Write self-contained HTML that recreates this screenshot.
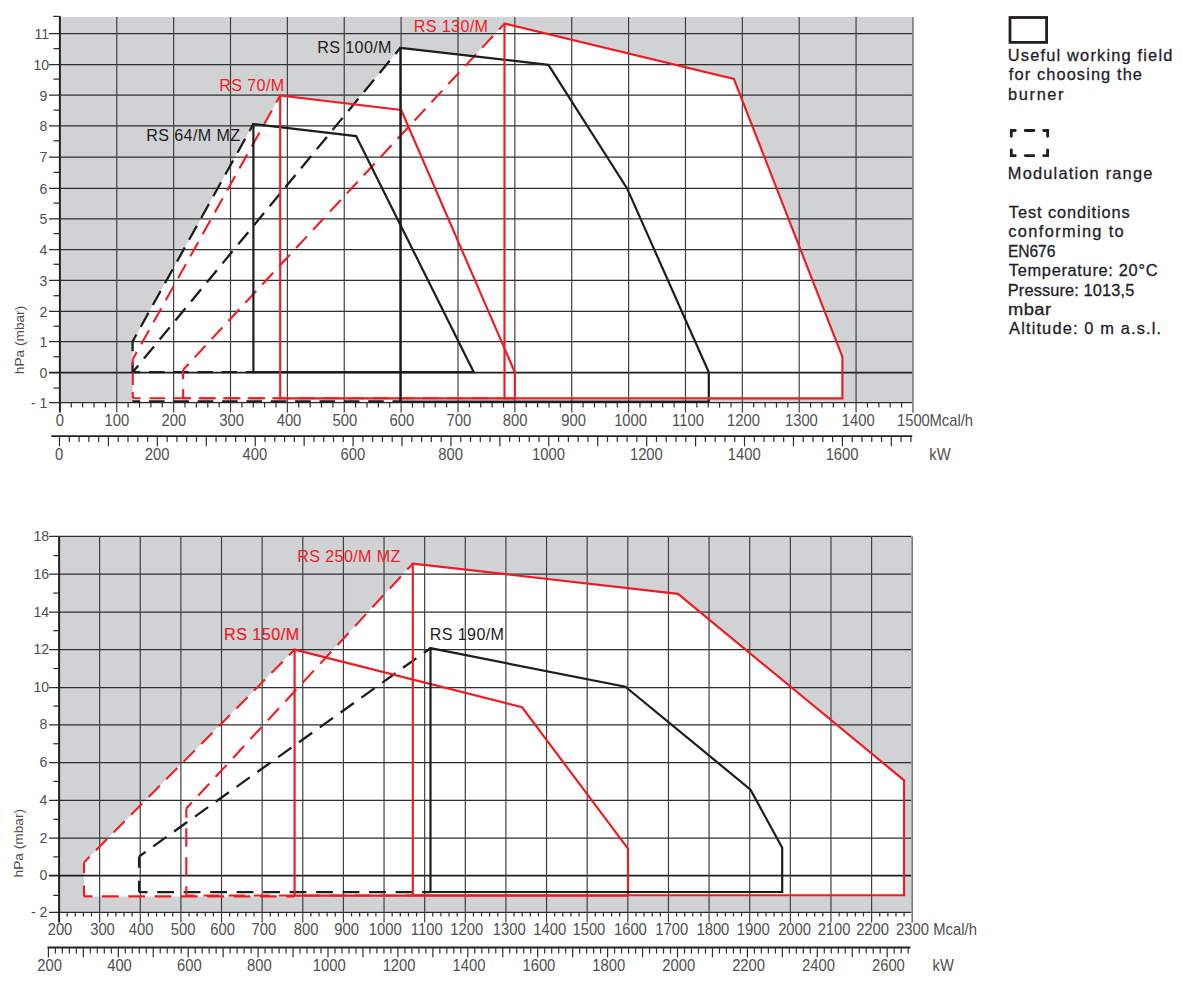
<!DOCTYPE html><html><head><meta charset="utf-8"><style>html,body{margin:0;padding:0;background:#fff;width:1182px;height:995px;overflow:hidden}svg{display:block}text{font-family:"Liberation Sans", sans-serif}</style></head><body>
<svg width="1182" height="995" viewBox="0 0 1182 995">
<rect x="59.9" y="17" width="853.05" height="385.7" fill="#d1d2d4"/>
<polygon points="253.4,124 356.1,136.1 473.8,372.2 253.4,372.2" fill="#fff"/>
<polygon points="280.2,95.5 401.2,110 514.8,372.2 514.8,398.3 280.2,398.3" fill="#fff"/>
<polygon points="400.4,47.8 548.4,64.9 627.1,188.4 708.8,372.3 708.8,401.6 400.4,401.6" fill="#fff"/>
<polygon points="504.5,23.6 733.9,78.9 842.4,356.9 842.4,398.3 504.5,398.3" fill="#fff"/>
<polygon points="253.4,124 132.6,341.5 132.6,372.2 253.4,372.2" fill="#fff"/>
<polygon points="280.2,95.5 132.8,359.2 132.8,398.3 280.2,398.3" fill="#fff"/>
<polygon points="504.5,23.6 183.1,369.8 183.1,398.3 504.5,398.3" fill="#fff"/>
<polygon points="400.4,47.8 133.3,371.5 133.3,401.4 400.4,401.4" fill="#fff"/>
<line x1="49" y1="402.7" x2="911.95" y2="402.7" stroke="#2e2e2e" stroke-width="1.25"/>
<line x1="49" y1="372.7" x2="911.95" y2="372.7" stroke="#1e1e1e" stroke-width="1.7"/>
<line x1="49" y1="341.7" x2="911.95" y2="341.7" stroke="#2e2e2e" stroke-width="1.25"/>
<line x1="49" y1="311.4" x2="911.95" y2="311.4" stroke="#2e2e2e" stroke-width="1.25"/>
<line x1="49" y1="280.4" x2="911.95" y2="280.4" stroke="#2e2e2e" stroke-width="1.25"/>
<line x1="49" y1="249.6" x2="911.95" y2="249.6" stroke="#2e2e2e" stroke-width="1.25"/>
<line x1="49" y1="218.8" x2="911.95" y2="218.8" stroke="#2e2e2e" stroke-width="1.25"/>
<line x1="49" y1="188.3" x2="911.95" y2="188.3" stroke="#2e2e2e" stroke-width="1.25"/>
<line x1="49" y1="157.1" x2="911.95" y2="157.1" stroke="#2e2e2e" stroke-width="1.25"/>
<line x1="49" y1="125.8" x2="911.95" y2="125.8" stroke="#2e2e2e" stroke-width="1.25"/>
<line x1="49" y1="95.2" x2="911.95" y2="95.2" stroke="#2e2e2e" stroke-width="1.25"/>
<line x1="49" y1="64.5" x2="911.95" y2="64.5" stroke="#2e2e2e" stroke-width="1.25"/>
<line x1="49" y1="33.5" x2="911.95" y2="33.5" stroke="#2e2e2e" stroke-width="1.25"/>
<line x1="53.5" y1="388.1" x2="59.9" y2="388.1" stroke="#2e2e2e" stroke-width="1.25"/>
<line x1="53.5" y1="356.7" x2="59.9" y2="356.7" stroke="#2e2e2e" stroke-width="1.25"/>
<line x1="53.5" y1="326.2" x2="59.9" y2="326.2" stroke="#2e2e2e" stroke-width="1.25"/>
<line x1="53.5" y1="295.7" x2="59.9" y2="295.7" stroke="#2e2e2e" stroke-width="1.25"/>
<line x1="53.5" y1="264.3" x2="59.9" y2="264.3" stroke="#2e2e2e" stroke-width="1.25"/>
<line x1="53.5" y1="233.6" x2="59.9" y2="233.6" stroke="#2e2e2e" stroke-width="1.25"/>
<line x1="53.5" y1="203.1" x2="59.9" y2="203.1" stroke="#2e2e2e" stroke-width="1.25"/>
<line x1="53.5" y1="172.4" x2="59.9" y2="172.4" stroke="#2e2e2e" stroke-width="1.25"/>
<line x1="53.5" y1="140.8" x2="59.9" y2="140.8" stroke="#2e2e2e" stroke-width="1.25"/>
<line x1="53.5" y1="110.1" x2="59.9" y2="110.1" stroke="#2e2e2e" stroke-width="1.25"/>
<line x1="53.5" y1="79.1" x2="59.9" y2="79.1" stroke="#2e2e2e" stroke-width="1.25"/>
<line x1="53.5" y1="48.6" x2="59.9" y2="48.6" stroke="#2e2e2e" stroke-width="1.25"/>
<line x1="116.77" y1="17" x2="116.77" y2="412.5" stroke="#404040" stroke-width="1.2"/>
<line x1="173.64" y1="17" x2="173.64" y2="412.5" stroke="#404040" stroke-width="1.2"/>
<line x1="230.51" y1="17" x2="230.51" y2="412.5" stroke="#404040" stroke-width="1.2"/>
<line x1="287.38" y1="17" x2="287.38" y2="412.5" stroke="#404040" stroke-width="1.2"/>
<line x1="344.25" y1="17" x2="344.25" y2="412.5" stroke="#404040" stroke-width="1.2"/>
<line x1="401.12" y1="17" x2="401.12" y2="412.5" stroke="#404040" stroke-width="1.2"/>
<line x1="457.99" y1="17" x2="457.99" y2="412.5" stroke="#404040" stroke-width="1.2"/>
<line x1="514.86" y1="17" x2="514.86" y2="412.5" stroke="#404040" stroke-width="1.2"/>
<line x1="571.73" y1="17" x2="571.73" y2="412.5" stroke="#404040" stroke-width="1.2"/>
<line x1="628.6" y1="17" x2="628.6" y2="412.5" stroke="#404040" stroke-width="1.2"/>
<line x1="685.47" y1="17" x2="685.47" y2="412.5" stroke="#404040" stroke-width="1.2"/>
<line x1="742.34" y1="17" x2="742.34" y2="412.5" stroke="#404040" stroke-width="1.2"/>
<line x1="799.21" y1="17" x2="799.21" y2="412.5" stroke="#404040" stroke-width="1.2"/>
<line x1="856.08" y1="17" x2="856.08" y2="412.5" stroke="#404040" stroke-width="1.2"/>
<line x1="912.95" y1="17" x2="912.95" y2="412.5" stroke="#7a7a7a" stroke-width="1.6"/>
<line x1="71.27" y1="402.7" x2="71.27" y2="407.6" stroke="#2e2e2e" stroke-width="1.2"/>
<line x1="82.65" y1="402.7" x2="82.65" y2="407.6" stroke="#2e2e2e" stroke-width="1.2"/>
<line x1="94.02" y1="402.7" x2="94.02" y2="407.6" stroke="#2e2e2e" stroke-width="1.2"/>
<line x1="105.4" y1="402.7" x2="105.4" y2="407.6" stroke="#2e2e2e" stroke-width="1.2"/>
<line x1="128.14" y1="402.7" x2="128.14" y2="407.6" stroke="#2e2e2e" stroke-width="1.2"/>
<line x1="139.52" y1="402.7" x2="139.52" y2="407.6" stroke="#2e2e2e" stroke-width="1.2"/>
<line x1="150.89" y1="402.7" x2="150.89" y2="407.6" stroke="#2e2e2e" stroke-width="1.2"/>
<line x1="162.27" y1="402.7" x2="162.27" y2="407.6" stroke="#2e2e2e" stroke-width="1.2"/>
<line x1="185.01" y1="402.7" x2="185.01" y2="407.6" stroke="#2e2e2e" stroke-width="1.2"/>
<line x1="196.39" y1="402.7" x2="196.39" y2="407.6" stroke="#2e2e2e" stroke-width="1.2"/>
<line x1="207.76" y1="402.7" x2="207.76" y2="407.6" stroke="#2e2e2e" stroke-width="1.2"/>
<line x1="219.14" y1="402.7" x2="219.14" y2="407.6" stroke="#2e2e2e" stroke-width="1.2"/>
<line x1="241.88" y1="402.7" x2="241.88" y2="407.6" stroke="#2e2e2e" stroke-width="1.2"/>
<line x1="253.26" y1="402.7" x2="253.26" y2="407.6" stroke="#2e2e2e" stroke-width="1.2"/>
<line x1="264.63" y1="402.7" x2="264.63" y2="407.6" stroke="#2e2e2e" stroke-width="1.2"/>
<line x1="276.01" y1="402.7" x2="276.01" y2="407.6" stroke="#2e2e2e" stroke-width="1.2"/>
<line x1="298.75" y1="402.7" x2="298.75" y2="407.6" stroke="#2e2e2e" stroke-width="1.2"/>
<line x1="310.13" y1="402.7" x2="310.13" y2="407.6" stroke="#2e2e2e" stroke-width="1.2"/>
<line x1="321.5" y1="402.7" x2="321.5" y2="407.6" stroke="#2e2e2e" stroke-width="1.2"/>
<line x1="332.88" y1="402.7" x2="332.88" y2="407.6" stroke="#2e2e2e" stroke-width="1.2"/>
<line x1="355.62" y1="402.7" x2="355.62" y2="407.6" stroke="#2e2e2e" stroke-width="1.2"/>
<line x1="367" y1="402.7" x2="367" y2="407.6" stroke="#2e2e2e" stroke-width="1.2"/>
<line x1="378.37" y1="402.7" x2="378.37" y2="407.6" stroke="#2e2e2e" stroke-width="1.2"/>
<line x1="389.75" y1="402.7" x2="389.75" y2="407.6" stroke="#2e2e2e" stroke-width="1.2"/>
<line x1="412.49" y1="402.7" x2="412.49" y2="407.6" stroke="#2e2e2e" stroke-width="1.2"/>
<line x1="423.87" y1="402.7" x2="423.87" y2="407.6" stroke="#2e2e2e" stroke-width="1.2"/>
<line x1="435.24" y1="402.7" x2="435.24" y2="407.6" stroke="#2e2e2e" stroke-width="1.2"/>
<line x1="446.62" y1="402.7" x2="446.62" y2="407.6" stroke="#2e2e2e" stroke-width="1.2"/>
<line x1="469.36" y1="402.7" x2="469.36" y2="407.6" stroke="#2e2e2e" stroke-width="1.2"/>
<line x1="480.74" y1="402.7" x2="480.74" y2="407.6" stroke="#2e2e2e" stroke-width="1.2"/>
<line x1="492.11" y1="402.7" x2="492.11" y2="407.6" stroke="#2e2e2e" stroke-width="1.2"/>
<line x1="503.49" y1="402.7" x2="503.49" y2="407.6" stroke="#2e2e2e" stroke-width="1.2"/>
<line x1="526.23" y1="402.7" x2="526.23" y2="407.6" stroke="#2e2e2e" stroke-width="1.2"/>
<line x1="537.61" y1="402.7" x2="537.61" y2="407.6" stroke="#2e2e2e" stroke-width="1.2"/>
<line x1="548.98" y1="402.7" x2="548.98" y2="407.6" stroke="#2e2e2e" stroke-width="1.2"/>
<line x1="560.36" y1="402.7" x2="560.36" y2="407.6" stroke="#2e2e2e" stroke-width="1.2"/>
<line x1="583.1" y1="402.7" x2="583.1" y2="407.6" stroke="#2e2e2e" stroke-width="1.2"/>
<line x1="594.48" y1="402.7" x2="594.48" y2="407.6" stroke="#2e2e2e" stroke-width="1.2"/>
<line x1="605.85" y1="402.7" x2="605.85" y2="407.6" stroke="#2e2e2e" stroke-width="1.2"/>
<line x1="617.23" y1="402.7" x2="617.23" y2="407.6" stroke="#2e2e2e" stroke-width="1.2"/>
<line x1="639.97" y1="402.7" x2="639.97" y2="407.6" stroke="#2e2e2e" stroke-width="1.2"/>
<line x1="651.35" y1="402.7" x2="651.35" y2="407.6" stroke="#2e2e2e" stroke-width="1.2"/>
<line x1="662.72" y1="402.7" x2="662.72" y2="407.6" stroke="#2e2e2e" stroke-width="1.2"/>
<line x1="674.1" y1="402.7" x2="674.1" y2="407.6" stroke="#2e2e2e" stroke-width="1.2"/>
<line x1="696.84" y1="402.7" x2="696.84" y2="407.6" stroke="#2e2e2e" stroke-width="1.2"/>
<line x1="708.22" y1="402.7" x2="708.22" y2="407.6" stroke="#2e2e2e" stroke-width="1.2"/>
<line x1="719.59" y1="402.7" x2="719.59" y2="407.6" stroke="#2e2e2e" stroke-width="1.2"/>
<line x1="730.97" y1="402.7" x2="730.97" y2="407.6" stroke="#2e2e2e" stroke-width="1.2"/>
<line x1="753.71" y1="402.7" x2="753.71" y2="407.6" stroke="#2e2e2e" stroke-width="1.2"/>
<line x1="765.09" y1="402.7" x2="765.09" y2="407.6" stroke="#2e2e2e" stroke-width="1.2"/>
<line x1="776.46" y1="402.7" x2="776.46" y2="407.6" stroke="#2e2e2e" stroke-width="1.2"/>
<line x1="787.84" y1="402.7" x2="787.84" y2="407.6" stroke="#2e2e2e" stroke-width="1.2"/>
<line x1="810.58" y1="402.7" x2="810.58" y2="407.6" stroke="#2e2e2e" stroke-width="1.2"/>
<line x1="821.96" y1="402.7" x2="821.96" y2="407.6" stroke="#2e2e2e" stroke-width="1.2"/>
<line x1="833.33" y1="402.7" x2="833.33" y2="407.6" stroke="#2e2e2e" stroke-width="1.2"/>
<line x1="844.71" y1="402.7" x2="844.71" y2="407.6" stroke="#2e2e2e" stroke-width="1.2"/>
<line x1="867.45" y1="402.7" x2="867.45" y2="407.6" stroke="#2e2e2e" stroke-width="1.2"/>
<line x1="878.83" y1="402.7" x2="878.83" y2="407.6" stroke="#2e2e2e" stroke-width="1.2"/>
<line x1="890.2" y1="402.7" x2="890.2" y2="407.6" stroke="#2e2e2e" stroke-width="1.2"/>
<line x1="901.58" y1="402.7" x2="901.58" y2="407.6" stroke="#2e2e2e" stroke-width="1.2"/>
<line x1="59.9" y1="16.2" x2="59.9" y2="412.5" stroke="#222" stroke-width="2"/>
<line x1="53.2" y1="16.4" x2="59.9" y2="16.4" stroke="#2e2e2e" stroke-width="1.2"/>
<line x1="253.4" y1="124" x2="132.6" y2="341.5" stroke="#1d1d1b" stroke-width="2.3" stroke-dasharray="15.92 8.96" stroke-dashoffset="7.96"/>
<line x1="132.6" y1="341.5" x2="132.6" y2="372.2" stroke="#1d1d1b" stroke-width="2.3" stroke-dasharray="19.65 11.05" stroke-dashoffset="9.82"/>
<line x1="132.6" y1="372.2" x2="253.4" y2="372.2" stroke="#1d1d1b" stroke-width="2.3" stroke-dasharray="15.46 8.7" stroke-dashoffset="7.73"/>
<line x1="280.2" y1="95.5" x2="132.8" y2="359.2" stroke="#ed1c24" stroke-width="2.1" stroke-dasharray="16.11 9.06" stroke-dashoffset="8.06"/>
<line x1="132.8" y1="359.2" x2="132.8" y2="398.3" stroke="#ed1c24" stroke-width="2.1" stroke-dasharray="12.51 7.04" stroke-dashoffset="6.26"/>
<line x1="132.8" y1="398.3" x2="280.2" y2="398.3" stroke="#ed1c24" stroke-width="2.1" stroke-dasharray="15.72 8.84" stroke-dashoffset="7.86"/>
<line x1="400.4" y1="47.8" x2="133.3" y2="371.5" stroke="#1d1d1b" stroke-width="2.3" stroke-dasharray="15.8 8.89" stroke-dashoffset="7.9"/>
<line x1="132.4" y1="401.4" x2="400.4" y2="401.4" stroke="#1d1d1b" stroke-width="2.3" stroke-dasharray="15.59 8.77" stroke-dashoffset="7.8"/>
<line x1="504.5" y1="23.6" x2="183.1" y2="369.8" stroke="#ed1c24" stroke-width="2.1" stroke-dasharray="15.91 8.95" stroke-dashoffset="7.96"/>
<line x1="183.1" y1="369.8" x2="183.1" y2="398.3" stroke="#ed1c24" stroke-width="2.1" stroke-dasharray="18.24 10.26" stroke-dashoffset="9.12"/>
<line x1="183.1" y1="398.3" x2="504.5" y2="398.3" stroke="#ed1c24" stroke-width="2.1" stroke-dasharray="15.82 8.9" stroke-dashoffset="7.91"/>
<polygon points="253.4,124 356.1,136.1 473.8,372.2 253.4,372.2" fill="none" stroke="#1d1d1b" stroke-width="2.2" stroke-linejoin="miter"/>
<polygon points="280.2,95.5 401.2,110 514.8,372.2 514.8,398.3 280.2,398.3" fill="none" stroke="#ed1c24" stroke-width="2.15" stroke-linejoin="miter"/>
<polygon points="400.4,47.8 548.4,64.9 627.1,188.4 708.8,372.3 708.8,401.6 400.4,401.6" fill="none" stroke="#1d1d1b" stroke-width="2.2" stroke-linejoin="miter"/>
<polygon points="504.5,23.6 733.9,78.9 842.4,356.9 842.4,398.3 504.5,398.3" fill="none" stroke="#ed1c24" stroke-width="2.15" stroke-linejoin="miter"/>
<text transform="translate(47.4,408) scale(0.91,1)" font-size="15.5" fill="#505050" text-anchor="end">- 1</text>
<text transform="translate(47.4,378) scale(0.91,1)" font-size="15.5" fill="#505050" text-anchor="end">0</text>
<text transform="translate(47.4,347) scale(0.91,1)" font-size="15.5" fill="#505050" text-anchor="end">1</text>
<text transform="translate(47.4,316.7) scale(0.91,1)" font-size="15.5" fill="#505050" text-anchor="end">2</text>
<text transform="translate(47.4,285.7) scale(0.91,1)" font-size="15.5" fill="#505050" text-anchor="end">3</text>
<text transform="translate(47.4,254.9) scale(0.91,1)" font-size="15.5" fill="#505050" text-anchor="end">4</text>
<text transform="translate(47.4,224.1) scale(0.91,1)" font-size="15.5" fill="#505050" text-anchor="end">5</text>
<text transform="translate(47.4,193.6) scale(0.91,1)" font-size="15.5" fill="#505050" text-anchor="end">6</text>
<text transform="translate(47.4,162.4) scale(0.91,1)" font-size="15.5" fill="#505050" text-anchor="end">7</text>
<text transform="translate(47.4,131.1) scale(0.91,1)" font-size="15.5" fill="#505050" text-anchor="end">8</text>
<text transform="translate(47.4,100.5) scale(0.91,1)" font-size="15.5" fill="#505050" text-anchor="end">9</text>
<text transform="translate(49.2,69.8) scale(0.91,1)" font-size="15.5" fill="#505050" text-anchor="end">10</text>
<text transform="translate(49.2,38.8) scale(0.91,1)" font-size="15.5" fill="#505050" text-anchor="end">11</text>
<text x="0" y="0" font-size="13.7" fill="#505050" text-anchor="middle" transform="translate(23.8,340) rotate(-90)">hPa (mbar)</text>
<text transform="translate(59.9,425.5) scale(1,1.08)" font-size="14.8" fill="#505050" text-anchor="middle">0</text>
<text transform="translate(116.9,425.5) scale(1,1.08)" font-size="14.8" fill="#505050" text-anchor="middle">100</text>
<text transform="translate(173.8,425.5) scale(1,1.08)" font-size="14.8" fill="#505050" text-anchor="middle">200</text>
<text transform="translate(231.6,425.5) scale(1,1.08)" font-size="14.8" fill="#505050" text-anchor="middle">300</text>
<text transform="translate(289,425.5) scale(1,1.08)" font-size="14.8" fill="#505050" text-anchor="middle">400</text>
<text transform="translate(344.8,425.5) scale(1,1.08)" font-size="14.8" fill="#505050" text-anchor="middle">500</text>
<text transform="translate(401.8,425.5) scale(1,1.08)" font-size="14.8" fill="#505050" text-anchor="middle">600</text>
<text transform="translate(458.8,425.5) scale(1,1.08)" font-size="14.8" fill="#505050" text-anchor="middle">700</text>
<text transform="translate(515.2,425.5) scale(1,1.08)" font-size="14.8" fill="#505050" text-anchor="middle">800</text>
<text transform="translate(573.6,425.5) scale(1,1.08)" font-size="14.8" fill="#505050" text-anchor="middle">900</text>
<text transform="translate(630.6,425.5) scale(1,1.08)" font-size="14.8" fill="#505050" text-anchor="middle">1000</text>
<text transform="translate(688,425.5) scale(1,1.08)" font-size="14.8" fill="#505050" text-anchor="middle">1100</text>
<text transform="translate(743.5,425.5) scale(1,1.08)" font-size="14.8" fill="#505050" text-anchor="middle">1200</text>
<text transform="translate(801.4,425.5) scale(1,1.08)" font-size="14.8" fill="#505050" text-anchor="middle">1300</text>
<text transform="translate(858.3,425.5) scale(1,1.08)" font-size="14.8" fill="#505050" text-anchor="middle">1400</text>
<text transform="translate(913.4,425.5) scale(1,1.08)" font-size="14.8" fill="#505050" text-anchor="middle">1500</text>
<text transform="translate(929.5,425.5) scale(1,1.08)" font-size="14.8" fill="#505050" text-anchor="start">Mcal/h</text>
<line x1="51.3" y1="436.1" x2="912.2" y2="436.1" stroke="#222" stroke-width="1.8"/>
<line x1="59.5" y1="436.1" x2="59.5" y2="446.3" stroke="#2e2e2e" stroke-width="1.2"/>
<line x1="69.29" y1="436.1" x2="69.29" y2="442" stroke="#2e2e2e" stroke-width="1.2"/>
<line x1="79.07" y1="436.1" x2="79.07" y2="442" stroke="#2e2e2e" stroke-width="1.2"/>
<line x1="88.86" y1="436.1" x2="88.86" y2="442" stroke="#2e2e2e" stroke-width="1.2"/>
<line x1="98.64" y1="436.1" x2="98.64" y2="442" stroke="#2e2e2e" stroke-width="1.2"/>
<line x1="108.43" y1="436.1" x2="108.43" y2="446.3" stroke="#2e2e2e" stroke-width="1.2"/>
<line x1="118.22" y1="436.1" x2="118.22" y2="442" stroke="#2e2e2e" stroke-width="1.2"/>
<line x1="128" y1="436.1" x2="128" y2="442" stroke="#2e2e2e" stroke-width="1.2"/>
<line x1="137.79" y1="436.1" x2="137.79" y2="442" stroke="#2e2e2e" stroke-width="1.2"/>
<line x1="147.57" y1="436.1" x2="147.57" y2="442" stroke="#2e2e2e" stroke-width="1.2"/>
<line x1="157.36" y1="436.1" x2="157.36" y2="446.3" stroke="#2e2e2e" stroke-width="1.2"/>
<line x1="167.15" y1="436.1" x2="167.15" y2="442" stroke="#2e2e2e" stroke-width="1.2"/>
<line x1="176.93" y1="436.1" x2="176.93" y2="442" stroke="#2e2e2e" stroke-width="1.2"/>
<line x1="186.72" y1="436.1" x2="186.72" y2="442" stroke="#2e2e2e" stroke-width="1.2"/>
<line x1="196.5" y1="436.1" x2="196.5" y2="442" stroke="#2e2e2e" stroke-width="1.2"/>
<line x1="206.29" y1="436.1" x2="206.29" y2="446.3" stroke="#2e2e2e" stroke-width="1.2"/>
<line x1="216.08" y1="436.1" x2="216.08" y2="442" stroke="#2e2e2e" stroke-width="1.2"/>
<line x1="225.86" y1="436.1" x2="225.86" y2="442" stroke="#2e2e2e" stroke-width="1.2"/>
<line x1="235.65" y1="436.1" x2="235.65" y2="442" stroke="#2e2e2e" stroke-width="1.2"/>
<line x1="245.43" y1="436.1" x2="245.43" y2="442" stroke="#2e2e2e" stroke-width="1.2"/>
<line x1="255.22" y1="436.1" x2="255.22" y2="446.3" stroke="#2e2e2e" stroke-width="1.2"/>
<line x1="265.01" y1="436.1" x2="265.01" y2="442" stroke="#2e2e2e" stroke-width="1.2"/>
<line x1="274.79" y1="436.1" x2="274.79" y2="442" stroke="#2e2e2e" stroke-width="1.2"/>
<line x1="284.58" y1="436.1" x2="284.58" y2="442" stroke="#2e2e2e" stroke-width="1.2"/>
<line x1="294.36" y1="436.1" x2="294.36" y2="442" stroke="#2e2e2e" stroke-width="1.2"/>
<line x1="304.15" y1="436.1" x2="304.15" y2="446.3" stroke="#2e2e2e" stroke-width="1.2"/>
<line x1="313.94" y1="436.1" x2="313.94" y2="442" stroke="#2e2e2e" stroke-width="1.2"/>
<line x1="323.72" y1="436.1" x2="323.72" y2="442" stroke="#2e2e2e" stroke-width="1.2"/>
<line x1="333.51" y1="436.1" x2="333.51" y2="442" stroke="#2e2e2e" stroke-width="1.2"/>
<line x1="343.29" y1="436.1" x2="343.29" y2="442" stroke="#2e2e2e" stroke-width="1.2"/>
<line x1="353.08" y1="436.1" x2="353.08" y2="446.3" stroke="#2e2e2e" stroke-width="1.2"/>
<line x1="362.87" y1="436.1" x2="362.87" y2="442" stroke="#2e2e2e" stroke-width="1.2"/>
<line x1="372.65" y1="436.1" x2="372.65" y2="442" stroke="#2e2e2e" stroke-width="1.2"/>
<line x1="382.44" y1="436.1" x2="382.44" y2="442" stroke="#2e2e2e" stroke-width="1.2"/>
<line x1="392.22" y1="436.1" x2="392.22" y2="442" stroke="#2e2e2e" stroke-width="1.2"/>
<line x1="402.01" y1="436.1" x2="402.01" y2="446.3" stroke="#2e2e2e" stroke-width="1.2"/>
<line x1="411.8" y1="436.1" x2="411.8" y2="442" stroke="#2e2e2e" stroke-width="1.2"/>
<line x1="421.58" y1="436.1" x2="421.58" y2="442" stroke="#2e2e2e" stroke-width="1.2"/>
<line x1="431.37" y1="436.1" x2="431.37" y2="442" stroke="#2e2e2e" stroke-width="1.2"/>
<line x1="441.15" y1="436.1" x2="441.15" y2="442" stroke="#2e2e2e" stroke-width="1.2"/>
<line x1="450.94" y1="436.1" x2="450.94" y2="446.3" stroke="#2e2e2e" stroke-width="1.2"/>
<line x1="460.73" y1="436.1" x2="460.73" y2="442" stroke="#2e2e2e" stroke-width="1.2"/>
<line x1="470.51" y1="436.1" x2="470.51" y2="442" stroke="#2e2e2e" stroke-width="1.2"/>
<line x1="480.3" y1="436.1" x2="480.3" y2="442" stroke="#2e2e2e" stroke-width="1.2"/>
<line x1="490.08" y1="436.1" x2="490.08" y2="442" stroke="#2e2e2e" stroke-width="1.2"/>
<line x1="499.87" y1="436.1" x2="499.87" y2="446.3" stroke="#2e2e2e" stroke-width="1.2"/>
<line x1="509.66" y1="436.1" x2="509.66" y2="442" stroke="#2e2e2e" stroke-width="1.2"/>
<line x1="519.44" y1="436.1" x2="519.44" y2="442" stroke="#2e2e2e" stroke-width="1.2"/>
<line x1="529.23" y1="436.1" x2="529.23" y2="442" stroke="#2e2e2e" stroke-width="1.2"/>
<line x1="539.01" y1="436.1" x2="539.01" y2="442" stroke="#2e2e2e" stroke-width="1.2"/>
<line x1="548.8" y1="436.1" x2="548.8" y2="446.3" stroke="#2e2e2e" stroke-width="1.2"/>
<line x1="558.59" y1="436.1" x2="558.59" y2="442" stroke="#2e2e2e" stroke-width="1.2"/>
<line x1="568.37" y1="436.1" x2="568.37" y2="442" stroke="#2e2e2e" stroke-width="1.2"/>
<line x1="578.16" y1="436.1" x2="578.16" y2="442" stroke="#2e2e2e" stroke-width="1.2"/>
<line x1="587.94" y1="436.1" x2="587.94" y2="442" stroke="#2e2e2e" stroke-width="1.2"/>
<line x1="597.73" y1="436.1" x2="597.73" y2="446.3" stroke="#2e2e2e" stroke-width="1.2"/>
<line x1="607.52" y1="436.1" x2="607.52" y2="442" stroke="#2e2e2e" stroke-width="1.2"/>
<line x1="617.3" y1="436.1" x2="617.3" y2="442" stroke="#2e2e2e" stroke-width="1.2"/>
<line x1="627.09" y1="436.1" x2="627.09" y2="442" stroke="#2e2e2e" stroke-width="1.2"/>
<line x1="636.87" y1="436.1" x2="636.87" y2="442" stroke="#2e2e2e" stroke-width="1.2"/>
<line x1="646.66" y1="436.1" x2="646.66" y2="446.3" stroke="#2e2e2e" stroke-width="1.2"/>
<line x1="656.45" y1="436.1" x2="656.45" y2="442" stroke="#2e2e2e" stroke-width="1.2"/>
<line x1="666.23" y1="436.1" x2="666.23" y2="442" stroke="#2e2e2e" stroke-width="1.2"/>
<line x1="676.02" y1="436.1" x2="676.02" y2="442" stroke="#2e2e2e" stroke-width="1.2"/>
<line x1="685.8" y1="436.1" x2="685.8" y2="442" stroke="#2e2e2e" stroke-width="1.2"/>
<line x1="695.59" y1="436.1" x2="695.59" y2="446.3" stroke="#2e2e2e" stroke-width="1.2"/>
<line x1="705.38" y1="436.1" x2="705.38" y2="442" stroke="#2e2e2e" stroke-width="1.2"/>
<line x1="715.16" y1="436.1" x2="715.16" y2="442" stroke="#2e2e2e" stroke-width="1.2"/>
<line x1="724.95" y1="436.1" x2="724.95" y2="442" stroke="#2e2e2e" stroke-width="1.2"/>
<line x1="734.73" y1="436.1" x2="734.73" y2="442" stroke="#2e2e2e" stroke-width="1.2"/>
<line x1="744.52" y1="436.1" x2="744.52" y2="446.3" stroke="#2e2e2e" stroke-width="1.2"/>
<line x1="754.31" y1="436.1" x2="754.31" y2="442" stroke="#2e2e2e" stroke-width="1.2"/>
<line x1="764.09" y1="436.1" x2="764.09" y2="442" stroke="#2e2e2e" stroke-width="1.2"/>
<line x1="773.88" y1="436.1" x2="773.88" y2="442" stroke="#2e2e2e" stroke-width="1.2"/>
<line x1="783.66" y1="436.1" x2="783.66" y2="442" stroke="#2e2e2e" stroke-width="1.2"/>
<line x1="793.45" y1="436.1" x2="793.45" y2="446.3" stroke="#2e2e2e" stroke-width="1.2"/>
<line x1="803.24" y1="436.1" x2="803.24" y2="442" stroke="#2e2e2e" stroke-width="1.2"/>
<line x1="813.02" y1="436.1" x2="813.02" y2="442" stroke="#2e2e2e" stroke-width="1.2"/>
<line x1="822.81" y1="436.1" x2="822.81" y2="442" stroke="#2e2e2e" stroke-width="1.2"/>
<line x1="832.59" y1="436.1" x2="832.59" y2="442" stroke="#2e2e2e" stroke-width="1.2"/>
<line x1="842.38" y1="436.1" x2="842.38" y2="446.3" stroke="#2e2e2e" stroke-width="1.2"/>
<line x1="852.17" y1="436.1" x2="852.17" y2="442" stroke="#2e2e2e" stroke-width="1.2"/>
<line x1="861.95" y1="436.1" x2="861.95" y2="442" stroke="#2e2e2e" stroke-width="1.2"/>
<line x1="871.74" y1="436.1" x2="871.74" y2="442" stroke="#2e2e2e" stroke-width="1.2"/>
<line x1="881.52" y1="436.1" x2="881.52" y2="442" stroke="#2e2e2e" stroke-width="1.2"/>
<line x1="891.31" y1="436.1" x2="891.31" y2="446.3" stroke="#2e2e2e" stroke-width="1.2"/>
<line x1="901.1" y1="436.1" x2="901.1" y2="442" stroke="#2e2e2e" stroke-width="1.2"/>
<line x1="910.88" y1="436.1" x2="910.88" y2="442" stroke="#2e2e2e" stroke-width="1.2"/>
<text transform="translate(59.2,459.6) scale(1,1.08)" font-size="14.8" fill="#505050" text-anchor="middle">0</text>
<text transform="translate(157.06,459.6) scale(1,1.08)" font-size="14.8" fill="#505050" text-anchor="middle">200</text>
<text transform="translate(254.92,459.6) scale(1,1.08)" font-size="14.8" fill="#505050" text-anchor="middle">400</text>
<text transform="translate(352.78,459.6) scale(1,1.08)" font-size="14.8" fill="#505050" text-anchor="middle">600</text>
<text transform="translate(450.64,459.6) scale(1,1.08)" font-size="14.8" fill="#505050" text-anchor="middle">800</text>
<text transform="translate(548.5,459.6) scale(1,1.08)" font-size="14.8" fill="#505050" text-anchor="middle">1000</text>
<text transform="translate(646.36,459.6) scale(1,1.08)" font-size="14.8" fill="#505050" text-anchor="middle">1200</text>
<text transform="translate(744.22,459.6) scale(1,1.08)" font-size="14.8" fill="#505050" text-anchor="middle">1400</text>
<text transform="translate(842.08,459.6) scale(1,1.08)" font-size="14.8" fill="#505050" text-anchor="middle">1600</text>
<text transform="translate(929.3,459.6) scale(1,1.08)" font-size="14.8" fill="#505050" text-anchor="start">kW</text>
<text x="146.3" y="140.6" font-size="16.1" fill="#1d1d1b" text-anchor="start" letter-spacing="0.38">RS 64/M MZ</text>
<text x="219.3" y="90.6" font-size="16.1" fill="#ed1c24" text-anchor="start" letter-spacing="0.38">RS 70/M</text>
<text x="317.3" y="52.8" font-size="16.1" fill="#1d1d1b" text-anchor="start" letter-spacing="0.38">RS 100/M</text>
<text x="413.8" y="32" font-size="16.1" fill="#ed1c24" text-anchor="start" letter-spacing="0.38">RS 130/M</text>
<rect x="59.1" y="536.4" width="853.13" height="375.9" fill="#d1d2d4"/>
<polygon points="294.6,649.6 522.1,707.3 628,848.6 628,895.6 294.6,895.6" fill="#fff"/>
<polygon points="430.5,648.2 625.4,686.7 750.5,789.6 782.2,847.8 782.2,892 430.5,892" fill="#fff"/>
<polygon points="412.8,563.6 678,593.9 904.1,780.3 904.1,895.2 412.8,895.2" fill="#fff"/>
<polygon points="430.5,648.2 139.1,856.5 139.1,892.2 430.5,892.2" fill="#fff"/>
<polygon points="412.8,563.6 186.3,808.5 186.3,895.5 412.8,895.5" fill="#fff"/>
<polygon points="294.6,649.6 84,862.4 84,896.4 294.6,896.4" fill="#fff"/>
<line x1="49" y1="912.3" x2="911.23" y2="912.3" stroke="#2e2e2e" stroke-width="1.25"/>
<line x1="49" y1="875.7" x2="911.23" y2="875.7" stroke="#1e1e1e" stroke-width="1.7"/>
<line x1="49" y1="838" x2="911.23" y2="838" stroke="#2e2e2e" stroke-width="1.25"/>
<line x1="49" y1="800.4" x2="911.23" y2="800.4" stroke="#2e2e2e" stroke-width="1.25"/>
<line x1="49" y1="762.6" x2="911.23" y2="762.6" stroke="#2e2e2e" stroke-width="1.25"/>
<line x1="49" y1="724.8" x2="911.23" y2="724.8" stroke="#2e2e2e" stroke-width="1.25"/>
<line x1="49" y1="687.6" x2="911.23" y2="687.6" stroke="#2e2e2e" stroke-width="1.25"/>
<line x1="49" y1="649.5" x2="911.23" y2="649.5" stroke="#2e2e2e" stroke-width="1.25"/>
<line x1="49" y1="612.1" x2="911.23" y2="612.1" stroke="#2e2e2e" stroke-width="1.25"/>
<line x1="49" y1="574.2" x2="911.23" y2="574.2" stroke="#2e2e2e" stroke-width="1.25"/>
<line x1="49" y1="536.4" x2="911.23" y2="536.4" stroke="#2e2e2e" stroke-width="1.25"/>
<line x1="53.3" y1="895.4" x2="59.1" y2="895.4" stroke="#2e2e2e" stroke-width="1.25"/>
<line x1="53.3" y1="856.9" x2="59.1" y2="856.9" stroke="#2e2e2e" stroke-width="1.25"/>
<line x1="53.3" y1="819.3" x2="59.1" y2="819.3" stroke="#2e2e2e" stroke-width="1.25"/>
<line x1="53.3" y1="781.4" x2="59.1" y2="781.4" stroke="#2e2e2e" stroke-width="1.25"/>
<line x1="53.3" y1="743.7" x2="59.1" y2="743.7" stroke="#2e2e2e" stroke-width="1.25"/>
<line x1="53.3" y1="706.1" x2="59.1" y2="706.1" stroke="#2e2e2e" stroke-width="1.25"/>
<line x1="53.3" y1="668.5" x2="59.1" y2="668.5" stroke="#2e2e2e" stroke-width="1.25"/>
<line x1="53.3" y1="630.7" x2="59.1" y2="630.7" stroke="#2e2e2e" stroke-width="1.25"/>
<line x1="53.3" y1="593.1" x2="59.1" y2="593.1" stroke="#2e2e2e" stroke-width="1.25"/>
<line x1="53.3" y1="555.6" x2="59.1" y2="555.6" stroke="#2e2e2e" stroke-width="1.25"/>
<line x1="99.63" y1="536.4" x2="99.63" y2="922.5" stroke="#404040" stroke-width="1.2"/>
<line x1="140.26" y1="536.4" x2="140.26" y2="922.5" stroke="#404040" stroke-width="1.2"/>
<line x1="180.89" y1="536.4" x2="180.89" y2="922.5" stroke="#404040" stroke-width="1.2"/>
<line x1="221.52" y1="536.4" x2="221.52" y2="922.5" stroke="#404040" stroke-width="1.2"/>
<line x1="262.15" y1="536.4" x2="262.15" y2="922.5" stroke="#404040" stroke-width="1.2"/>
<line x1="302.78" y1="536.4" x2="302.78" y2="922.5" stroke="#404040" stroke-width="1.2"/>
<line x1="343.41" y1="536.4" x2="343.41" y2="922.5" stroke="#404040" stroke-width="1.2"/>
<line x1="384.04" y1="536.4" x2="384.04" y2="922.5" stroke="#404040" stroke-width="1.2"/>
<line x1="424.67" y1="536.4" x2="424.67" y2="922.5" stroke="#404040" stroke-width="1.2"/>
<line x1="465.3" y1="536.4" x2="465.3" y2="922.5" stroke="#404040" stroke-width="1.2"/>
<line x1="505.93" y1="536.4" x2="505.93" y2="922.5" stroke="#404040" stroke-width="1.2"/>
<line x1="546.56" y1="536.4" x2="546.56" y2="922.5" stroke="#404040" stroke-width="1.2"/>
<line x1="587.19" y1="536.4" x2="587.19" y2="922.5" stroke="#404040" stroke-width="1.2"/>
<line x1="627.82" y1="536.4" x2="627.82" y2="922.5" stroke="#404040" stroke-width="1.2"/>
<line x1="668.45" y1="536.4" x2="668.45" y2="922.5" stroke="#404040" stroke-width="1.2"/>
<line x1="709.08" y1="536.4" x2="709.08" y2="922.5" stroke="#404040" stroke-width="1.2"/>
<line x1="749.71" y1="536.4" x2="749.71" y2="922.5" stroke="#404040" stroke-width="1.2"/>
<line x1="790.34" y1="536.4" x2="790.34" y2="922.5" stroke="#404040" stroke-width="1.2"/>
<line x1="830.97" y1="536.4" x2="830.97" y2="922.5" stroke="#404040" stroke-width="1.2"/>
<line x1="871.6" y1="536.4" x2="871.6" y2="922.5" stroke="#404040" stroke-width="1.2"/>
<line x1="912.23" y1="536.4" x2="912.23" y2="922.5" stroke="#7a7a7a" stroke-width="1.6"/>
<line x1="67.13" y1="912.3" x2="67.13" y2="916.4" stroke="#2e2e2e" stroke-width="1.2"/>
<line x1="75.25" y1="912.3" x2="75.25" y2="916.4" stroke="#2e2e2e" stroke-width="1.2"/>
<line x1="83.38" y1="912.3" x2="83.38" y2="916.4" stroke="#2e2e2e" stroke-width="1.2"/>
<line x1="91.5" y1="912.3" x2="91.5" y2="916.4" stroke="#2e2e2e" stroke-width="1.2"/>
<line x1="107.76" y1="912.3" x2="107.76" y2="916.4" stroke="#2e2e2e" stroke-width="1.2"/>
<line x1="115.88" y1="912.3" x2="115.88" y2="916.4" stroke="#2e2e2e" stroke-width="1.2"/>
<line x1="124.01" y1="912.3" x2="124.01" y2="916.4" stroke="#2e2e2e" stroke-width="1.2"/>
<line x1="132.13" y1="912.3" x2="132.13" y2="916.4" stroke="#2e2e2e" stroke-width="1.2"/>
<line x1="148.39" y1="912.3" x2="148.39" y2="916.4" stroke="#2e2e2e" stroke-width="1.2"/>
<line x1="156.51" y1="912.3" x2="156.51" y2="916.4" stroke="#2e2e2e" stroke-width="1.2"/>
<line x1="164.64" y1="912.3" x2="164.64" y2="916.4" stroke="#2e2e2e" stroke-width="1.2"/>
<line x1="172.76" y1="912.3" x2="172.76" y2="916.4" stroke="#2e2e2e" stroke-width="1.2"/>
<line x1="189.02" y1="912.3" x2="189.02" y2="916.4" stroke="#2e2e2e" stroke-width="1.2"/>
<line x1="197.14" y1="912.3" x2="197.14" y2="916.4" stroke="#2e2e2e" stroke-width="1.2"/>
<line x1="205.27" y1="912.3" x2="205.27" y2="916.4" stroke="#2e2e2e" stroke-width="1.2"/>
<line x1="213.39" y1="912.3" x2="213.39" y2="916.4" stroke="#2e2e2e" stroke-width="1.2"/>
<line x1="229.65" y1="912.3" x2="229.65" y2="916.4" stroke="#2e2e2e" stroke-width="1.2"/>
<line x1="237.77" y1="912.3" x2="237.77" y2="916.4" stroke="#2e2e2e" stroke-width="1.2"/>
<line x1="245.9" y1="912.3" x2="245.9" y2="916.4" stroke="#2e2e2e" stroke-width="1.2"/>
<line x1="254.02" y1="912.3" x2="254.02" y2="916.4" stroke="#2e2e2e" stroke-width="1.2"/>
<line x1="270.28" y1="912.3" x2="270.28" y2="916.4" stroke="#2e2e2e" stroke-width="1.2"/>
<line x1="278.4" y1="912.3" x2="278.4" y2="916.4" stroke="#2e2e2e" stroke-width="1.2"/>
<line x1="286.53" y1="912.3" x2="286.53" y2="916.4" stroke="#2e2e2e" stroke-width="1.2"/>
<line x1="294.65" y1="912.3" x2="294.65" y2="916.4" stroke="#2e2e2e" stroke-width="1.2"/>
<line x1="310.91" y1="912.3" x2="310.91" y2="916.4" stroke="#2e2e2e" stroke-width="1.2"/>
<line x1="319.03" y1="912.3" x2="319.03" y2="916.4" stroke="#2e2e2e" stroke-width="1.2"/>
<line x1="327.16" y1="912.3" x2="327.16" y2="916.4" stroke="#2e2e2e" stroke-width="1.2"/>
<line x1="335.28" y1="912.3" x2="335.28" y2="916.4" stroke="#2e2e2e" stroke-width="1.2"/>
<line x1="351.54" y1="912.3" x2="351.54" y2="916.4" stroke="#2e2e2e" stroke-width="1.2"/>
<line x1="359.66" y1="912.3" x2="359.66" y2="916.4" stroke="#2e2e2e" stroke-width="1.2"/>
<line x1="367.79" y1="912.3" x2="367.79" y2="916.4" stroke="#2e2e2e" stroke-width="1.2"/>
<line x1="375.91" y1="912.3" x2="375.91" y2="916.4" stroke="#2e2e2e" stroke-width="1.2"/>
<line x1="392.17" y1="912.3" x2="392.17" y2="916.4" stroke="#2e2e2e" stroke-width="1.2"/>
<line x1="400.29" y1="912.3" x2="400.29" y2="916.4" stroke="#2e2e2e" stroke-width="1.2"/>
<line x1="408.42" y1="912.3" x2="408.42" y2="916.4" stroke="#2e2e2e" stroke-width="1.2"/>
<line x1="416.54" y1="912.3" x2="416.54" y2="916.4" stroke="#2e2e2e" stroke-width="1.2"/>
<line x1="432.8" y1="912.3" x2="432.8" y2="916.4" stroke="#2e2e2e" stroke-width="1.2"/>
<line x1="440.92" y1="912.3" x2="440.92" y2="916.4" stroke="#2e2e2e" stroke-width="1.2"/>
<line x1="449.05" y1="912.3" x2="449.05" y2="916.4" stroke="#2e2e2e" stroke-width="1.2"/>
<line x1="457.17" y1="912.3" x2="457.17" y2="916.4" stroke="#2e2e2e" stroke-width="1.2"/>
<line x1="473.43" y1="912.3" x2="473.43" y2="916.4" stroke="#2e2e2e" stroke-width="1.2"/>
<line x1="481.55" y1="912.3" x2="481.55" y2="916.4" stroke="#2e2e2e" stroke-width="1.2"/>
<line x1="489.68" y1="912.3" x2="489.68" y2="916.4" stroke="#2e2e2e" stroke-width="1.2"/>
<line x1="497.8" y1="912.3" x2="497.8" y2="916.4" stroke="#2e2e2e" stroke-width="1.2"/>
<line x1="514.06" y1="912.3" x2="514.06" y2="916.4" stroke="#2e2e2e" stroke-width="1.2"/>
<line x1="522.18" y1="912.3" x2="522.18" y2="916.4" stroke="#2e2e2e" stroke-width="1.2"/>
<line x1="530.31" y1="912.3" x2="530.31" y2="916.4" stroke="#2e2e2e" stroke-width="1.2"/>
<line x1="538.43" y1="912.3" x2="538.43" y2="916.4" stroke="#2e2e2e" stroke-width="1.2"/>
<line x1="554.69" y1="912.3" x2="554.69" y2="916.4" stroke="#2e2e2e" stroke-width="1.2"/>
<line x1="562.81" y1="912.3" x2="562.81" y2="916.4" stroke="#2e2e2e" stroke-width="1.2"/>
<line x1="570.94" y1="912.3" x2="570.94" y2="916.4" stroke="#2e2e2e" stroke-width="1.2"/>
<line x1="579.06" y1="912.3" x2="579.06" y2="916.4" stroke="#2e2e2e" stroke-width="1.2"/>
<line x1="595.32" y1="912.3" x2="595.32" y2="916.4" stroke="#2e2e2e" stroke-width="1.2"/>
<line x1="603.44" y1="912.3" x2="603.44" y2="916.4" stroke="#2e2e2e" stroke-width="1.2"/>
<line x1="611.57" y1="912.3" x2="611.57" y2="916.4" stroke="#2e2e2e" stroke-width="1.2"/>
<line x1="619.69" y1="912.3" x2="619.69" y2="916.4" stroke="#2e2e2e" stroke-width="1.2"/>
<line x1="635.95" y1="912.3" x2="635.95" y2="916.4" stroke="#2e2e2e" stroke-width="1.2"/>
<line x1="644.07" y1="912.3" x2="644.07" y2="916.4" stroke="#2e2e2e" stroke-width="1.2"/>
<line x1="652.2" y1="912.3" x2="652.2" y2="916.4" stroke="#2e2e2e" stroke-width="1.2"/>
<line x1="660.32" y1="912.3" x2="660.32" y2="916.4" stroke="#2e2e2e" stroke-width="1.2"/>
<line x1="676.58" y1="912.3" x2="676.58" y2="916.4" stroke="#2e2e2e" stroke-width="1.2"/>
<line x1="684.7" y1="912.3" x2="684.7" y2="916.4" stroke="#2e2e2e" stroke-width="1.2"/>
<line x1="692.83" y1="912.3" x2="692.83" y2="916.4" stroke="#2e2e2e" stroke-width="1.2"/>
<line x1="700.95" y1="912.3" x2="700.95" y2="916.4" stroke="#2e2e2e" stroke-width="1.2"/>
<line x1="717.21" y1="912.3" x2="717.21" y2="916.4" stroke="#2e2e2e" stroke-width="1.2"/>
<line x1="725.33" y1="912.3" x2="725.33" y2="916.4" stroke="#2e2e2e" stroke-width="1.2"/>
<line x1="733.46" y1="912.3" x2="733.46" y2="916.4" stroke="#2e2e2e" stroke-width="1.2"/>
<line x1="741.58" y1="912.3" x2="741.58" y2="916.4" stroke="#2e2e2e" stroke-width="1.2"/>
<line x1="757.84" y1="912.3" x2="757.84" y2="916.4" stroke="#2e2e2e" stroke-width="1.2"/>
<line x1="765.96" y1="912.3" x2="765.96" y2="916.4" stroke="#2e2e2e" stroke-width="1.2"/>
<line x1="774.09" y1="912.3" x2="774.09" y2="916.4" stroke="#2e2e2e" stroke-width="1.2"/>
<line x1="782.21" y1="912.3" x2="782.21" y2="916.4" stroke="#2e2e2e" stroke-width="1.2"/>
<line x1="798.47" y1="912.3" x2="798.47" y2="916.4" stroke="#2e2e2e" stroke-width="1.2"/>
<line x1="806.59" y1="912.3" x2="806.59" y2="916.4" stroke="#2e2e2e" stroke-width="1.2"/>
<line x1="814.72" y1="912.3" x2="814.72" y2="916.4" stroke="#2e2e2e" stroke-width="1.2"/>
<line x1="822.84" y1="912.3" x2="822.84" y2="916.4" stroke="#2e2e2e" stroke-width="1.2"/>
<line x1="839.1" y1="912.3" x2="839.1" y2="916.4" stroke="#2e2e2e" stroke-width="1.2"/>
<line x1="847.22" y1="912.3" x2="847.22" y2="916.4" stroke="#2e2e2e" stroke-width="1.2"/>
<line x1="855.35" y1="912.3" x2="855.35" y2="916.4" stroke="#2e2e2e" stroke-width="1.2"/>
<line x1="863.47" y1="912.3" x2="863.47" y2="916.4" stroke="#2e2e2e" stroke-width="1.2"/>
<line x1="879.73" y1="912.3" x2="879.73" y2="916.4" stroke="#2e2e2e" stroke-width="1.2"/>
<line x1="887.85" y1="912.3" x2="887.85" y2="916.4" stroke="#2e2e2e" stroke-width="1.2"/>
<line x1="895.98" y1="912.3" x2="895.98" y2="916.4" stroke="#2e2e2e" stroke-width="1.2"/>
<line x1="904.1" y1="912.3" x2="904.1" y2="916.4" stroke="#2e2e2e" stroke-width="1.2"/>
<line x1="59.1" y1="536.4" x2="59.1" y2="922.6" stroke="#222" stroke-width="2"/>
<line x1="430.5" y1="648.2" x2="139.1" y2="856.5" stroke="#1d1d1b" stroke-width="2.3" stroke-dasharray="16.24 9.35" stroke-dashoffset="8.12"/>
<line x1="139.1" y1="856.5" x2="139.1" y2="892.2" stroke="#1d1d1b" stroke-width="2.3" stroke-dasharray="22.66 13.04" stroke-dashoffset="11.33"/>
<line x1="139.1" y1="892.2" x2="430.5" y2="892.2" stroke="#1d1d1b" stroke-width="2.3" stroke-dasharray="16.81 9.68" stroke-dashoffset="8.41"/>
<line x1="412.8" y1="563.6" x2="186.3" y2="808.5" stroke="#ed1c24" stroke-width="2.1" stroke-dasharray="16.28 9.38" stroke-dashoffset="8.14"/>
<line x1="186.3" y1="808.5" x2="186.3" y2="895.5" stroke="#ed1c24" stroke-width="2.1" stroke-dasharray="18.4 10.6" stroke-dashoffset="9.2"/>
<line x1="186.3" y1="895.5" x2="412.8" y2="895.5" stroke="#ed1c24" stroke-width="2.1" stroke-dasharray="15.97 9.2" stroke-dashoffset="7.99"/>
<line x1="294.6" y1="649.6" x2="84" y2="862.4" stroke="#ed1c24" stroke-width="2.1" stroke-dasharray="15.83 9.12" stroke-dashoffset="7.92"/>
<line x1="84" y1="862.4" x2="84" y2="896.4" stroke="#ed1c24" stroke-width="2.1" stroke-dasharray="21.58 12.42" stroke-dashoffset="10.79"/>
<line x1="84" y1="896.4" x2="294.6" y2="896.4" stroke="#ed1c24" stroke-width="2.1" stroke-dasharray="16.71 9.62" stroke-dashoffset="8.35"/>
<polygon points="294.6,649.6 522.1,707.3 628,848.6 628,895.6 294.6,895.6" fill="none" stroke="#ed1c24" stroke-width="2.15"/>
<polygon points="430.5,648.2 625.4,686.7 750.5,789.6 782.2,847.8 782.2,892 430.5,892" fill="none" stroke="#1d1d1b" stroke-width="2.2"/>
<polygon points="412.8,563.6 678,593.9 904.1,780.3 904.1,895.2 412.8,895.2" fill="none" stroke="#ed1c24" stroke-width="2.15"/>
<text transform="translate(47.4,916.9) scale(0.91,1)" font-size="15.5" fill="#505050" text-anchor="end">- 2</text>
<text transform="translate(47.4,880.3) scale(0.91,1)" font-size="15.5" fill="#505050" text-anchor="end">0</text>
<text transform="translate(47.4,842.6) scale(0.91,1)" font-size="15.5" fill="#505050" text-anchor="end">2</text>
<text transform="translate(47.4,805) scale(0.91,1)" font-size="15.5" fill="#505050" text-anchor="end">4</text>
<text transform="translate(47.4,767.2) scale(0.91,1)" font-size="15.5" fill="#505050" text-anchor="end">6</text>
<text transform="translate(47.4,729.4) scale(0.91,1)" font-size="15.5" fill="#505050" text-anchor="end">8</text>
<text transform="translate(49.2,692.2) scale(0.91,1)" font-size="15.5" fill="#505050" text-anchor="end">10</text>
<text transform="translate(49.2,654.1) scale(0.91,1)" font-size="15.5" fill="#505050" text-anchor="end">12</text>
<text transform="translate(49.2,616.7) scale(0.91,1)" font-size="15.5" fill="#505050" text-anchor="end">14</text>
<text transform="translate(49.2,578.8) scale(0.91,1)" font-size="15.5" fill="#505050" text-anchor="end">16</text>
<text transform="translate(49.2,541) scale(0.91,1)" font-size="15.5" fill="#505050" text-anchor="end">18</text>
<text x="0" y="0" font-size="13.7" fill="#505050" text-anchor="middle" transform="translate(22.8,843.2) rotate(-90)">hPa (mbar)</text>
<text transform="translate(60,935) scale(1,1.08)" font-size="14.8" fill="#505050" text-anchor="middle">200</text>
<text transform="translate(102.5,935) scale(1,1.08)" font-size="14.8" fill="#505050" text-anchor="middle">300</text>
<text transform="translate(141.1,935) scale(1,1.08)" font-size="14.8" fill="#505050" text-anchor="middle">400</text>
<text transform="translate(183.2,935) scale(1,1.08)" font-size="14.8" fill="#505050" text-anchor="middle">500</text>
<text transform="translate(222.7,935) scale(1,1.08)" font-size="14.8" fill="#505050" text-anchor="middle">600</text>
<text transform="translate(263.8,935) scale(1,1.08)" font-size="14.8" fill="#505050" text-anchor="middle">700</text>
<text transform="translate(306.1,935) scale(1,1.08)" font-size="14.8" fill="#505050" text-anchor="middle">800</text>
<text transform="translate(346.6,935) scale(1,1.08)" font-size="14.8" fill="#505050" text-anchor="middle">900</text>
<text transform="translate(385.2,935) scale(1,1.08)" font-size="14.8" fill="#505050" text-anchor="middle">1000</text>
<text transform="translate(426.7,935) scale(1,1.08)" font-size="14.8" fill="#505050" text-anchor="middle">1100</text>
<text transform="translate(466.8,935) scale(1,1.08)" font-size="14.8" fill="#505050" text-anchor="middle">1200</text>
<text transform="translate(509.2,935) scale(1,1.08)" font-size="14.8" fill="#505050" text-anchor="middle">1300</text>
<text transform="translate(549.8,935) scale(1,1.08)" font-size="14.8" fill="#505050" text-anchor="middle">1400</text>
<text transform="translate(588.9,935) scale(1,1.08)" font-size="14.8" fill="#505050" text-anchor="middle">1500</text>
<text transform="translate(630.4,935) scale(1,1.08)" font-size="14.8" fill="#505050" text-anchor="middle">1600</text>
<text transform="translate(671.8,935) scale(1,1.08)" font-size="14.8" fill="#505050" text-anchor="middle">1700</text>
<text transform="translate(712.9,935) scale(1,1.08)" font-size="14.8" fill="#505050" text-anchor="middle">1800</text>
<text transform="translate(753.2,935) scale(1,1.08)" font-size="14.8" fill="#505050" text-anchor="middle">1900</text>
<text transform="translate(794.6,935) scale(1,1.08)" font-size="14.8" fill="#505050" text-anchor="middle">2000</text>
<text transform="translate(834.1,935) scale(1,1.08)" font-size="14.8" fill="#505050" text-anchor="middle">2100</text>
<text transform="translate(872.6,935) scale(1,1.08)" font-size="14.8" fill="#505050" text-anchor="middle">2200</text>
<text transform="translate(912.5,935) scale(1,1.08)" font-size="14.8" fill="#505050" text-anchor="middle">2300</text>
<text transform="translate(933.3,935) scale(1,1.08)" font-size="14.8" fill="#505050" text-anchor="start">Mcal/h</text>
<line x1="47.5" y1="947.5" x2="910.5" y2="947.5" stroke="#222" stroke-width="1.8"/>
<line x1="48.4" y1="947.5" x2="48.4" y2="957.3" stroke="#2e2e2e" stroke-width="1.2"/>
<line x1="55.39" y1="947.5" x2="55.39" y2="953.6" stroke="#2e2e2e" stroke-width="1.2"/>
<line x1="62.38" y1="947.5" x2="62.38" y2="953.6" stroke="#2e2e2e" stroke-width="1.2"/>
<line x1="69.37" y1="947.5" x2="69.37" y2="953.6" stroke="#2e2e2e" stroke-width="1.2"/>
<line x1="76.36" y1="947.5" x2="76.36" y2="953.6" stroke="#2e2e2e" stroke-width="1.2"/>
<line x1="83.35" y1="947.5" x2="83.35" y2="957.3" stroke="#2e2e2e" stroke-width="1.2"/>
<line x1="90.34" y1="947.5" x2="90.34" y2="953.6" stroke="#2e2e2e" stroke-width="1.2"/>
<line x1="97.33" y1="947.5" x2="97.33" y2="953.6" stroke="#2e2e2e" stroke-width="1.2"/>
<line x1="104.32" y1="947.5" x2="104.32" y2="953.6" stroke="#2e2e2e" stroke-width="1.2"/>
<line x1="111.31" y1="947.5" x2="111.31" y2="953.6" stroke="#2e2e2e" stroke-width="1.2"/>
<line x1="118.3" y1="947.5" x2="118.3" y2="957.3" stroke="#2e2e2e" stroke-width="1.2"/>
<line x1="125.29" y1="947.5" x2="125.29" y2="953.6" stroke="#2e2e2e" stroke-width="1.2"/>
<line x1="132.28" y1="947.5" x2="132.28" y2="953.6" stroke="#2e2e2e" stroke-width="1.2"/>
<line x1="139.27" y1="947.5" x2="139.27" y2="953.6" stroke="#2e2e2e" stroke-width="1.2"/>
<line x1="146.26" y1="947.5" x2="146.26" y2="953.6" stroke="#2e2e2e" stroke-width="1.2"/>
<line x1="153.25" y1="947.5" x2="153.25" y2="957.3" stroke="#2e2e2e" stroke-width="1.2"/>
<line x1="160.24" y1="947.5" x2="160.24" y2="953.6" stroke="#2e2e2e" stroke-width="1.2"/>
<line x1="167.23" y1="947.5" x2="167.23" y2="953.6" stroke="#2e2e2e" stroke-width="1.2"/>
<line x1="174.22" y1="947.5" x2="174.22" y2="953.6" stroke="#2e2e2e" stroke-width="1.2"/>
<line x1="181.21" y1="947.5" x2="181.21" y2="953.6" stroke="#2e2e2e" stroke-width="1.2"/>
<line x1="188.2" y1="947.5" x2="188.2" y2="957.3" stroke="#2e2e2e" stroke-width="1.2"/>
<line x1="195.19" y1="947.5" x2="195.19" y2="953.6" stroke="#2e2e2e" stroke-width="1.2"/>
<line x1="202.18" y1="947.5" x2="202.18" y2="953.6" stroke="#2e2e2e" stroke-width="1.2"/>
<line x1="209.17" y1="947.5" x2="209.17" y2="953.6" stroke="#2e2e2e" stroke-width="1.2"/>
<line x1="216.16" y1="947.5" x2="216.16" y2="953.6" stroke="#2e2e2e" stroke-width="1.2"/>
<line x1="223.15" y1="947.5" x2="223.15" y2="957.3" stroke="#2e2e2e" stroke-width="1.2"/>
<line x1="230.14" y1="947.5" x2="230.14" y2="953.6" stroke="#2e2e2e" stroke-width="1.2"/>
<line x1="237.13" y1="947.5" x2="237.13" y2="953.6" stroke="#2e2e2e" stroke-width="1.2"/>
<line x1="244.12" y1="947.5" x2="244.12" y2="953.6" stroke="#2e2e2e" stroke-width="1.2"/>
<line x1="251.11" y1="947.5" x2="251.11" y2="953.6" stroke="#2e2e2e" stroke-width="1.2"/>
<line x1="258.1" y1="947.5" x2="258.1" y2="957.3" stroke="#2e2e2e" stroke-width="1.2"/>
<line x1="265.09" y1="947.5" x2="265.09" y2="953.6" stroke="#2e2e2e" stroke-width="1.2"/>
<line x1="272.08" y1="947.5" x2="272.08" y2="953.6" stroke="#2e2e2e" stroke-width="1.2"/>
<line x1="279.07" y1="947.5" x2="279.07" y2="953.6" stroke="#2e2e2e" stroke-width="1.2"/>
<line x1="286.06" y1="947.5" x2="286.06" y2="953.6" stroke="#2e2e2e" stroke-width="1.2"/>
<line x1="293.05" y1="947.5" x2="293.05" y2="957.3" stroke="#2e2e2e" stroke-width="1.2"/>
<line x1="300.04" y1="947.5" x2="300.04" y2="953.6" stroke="#2e2e2e" stroke-width="1.2"/>
<line x1="307.03" y1="947.5" x2="307.03" y2="953.6" stroke="#2e2e2e" stroke-width="1.2"/>
<line x1="314.02" y1="947.5" x2="314.02" y2="953.6" stroke="#2e2e2e" stroke-width="1.2"/>
<line x1="321.01" y1="947.5" x2="321.01" y2="953.6" stroke="#2e2e2e" stroke-width="1.2"/>
<line x1="328" y1="947.5" x2="328" y2="957.3" stroke="#2e2e2e" stroke-width="1.2"/>
<line x1="334.99" y1="947.5" x2="334.99" y2="953.6" stroke="#2e2e2e" stroke-width="1.2"/>
<line x1="341.98" y1="947.5" x2="341.98" y2="953.6" stroke="#2e2e2e" stroke-width="1.2"/>
<line x1="348.97" y1="947.5" x2="348.97" y2="953.6" stroke="#2e2e2e" stroke-width="1.2"/>
<line x1="355.96" y1="947.5" x2="355.96" y2="953.6" stroke="#2e2e2e" stroke-width="1.2"/>
<line x1="362.95" y1="947.5" x2="362.95" y2="957.3" stroke="#2e2e2e" stroke-width="1.2"/>
<line x1="369.94" y1="947.5" x2="369.94" y2="953.6" stroke="#2e2e2e" stroke-width="1.2"/>
<line x1="376.93" y1="947.5" x2="376.93" y2="953.6" stroke="#2e2e2e" stroke-width="1.2"/>
<line x1="383.92" y1="947.5" x2="383.92" y2="953.6" stroke="#2e2e2e" stroke-width="1.2"/>
<line x1="390.91" y1="947.5" x2="390.91" y2="953.6" stroke="#2e2e2e" stroke-width="1.2"/>
<line x1="397.9" y1="947.5" x2="397.9" y2="957.3" stroke="#2e2e2e" stroke-width="1.2"/>
<line x1="404.89" y1="947.5" x2="404.89" y2="953.6" stroke="#2e2e2e" stroke-width="1.2"/>
<line x1="411.88" y1="947.5" x2="411.88" y2="953.6" stroke="#2e2e2e" stroke-width="1.2"/>
<line x1="418.87" y1="947.5" x2="418.87" y2="953.6" stroke="#2e2e2e" stroke-width="1.2"/>
<line x1="425.86" y1="947.5" x2="425.86" y2="953.6" stroke="#2e2e2e" stroke-width="1.2"/>
<line x1="432.85" y1="947.5" x2="432.85" y2="957.3" stroke="#2e2e2e" stroke-width="1.2"/>
<line x1="439.84" y1="947.5" x2="439.84" y2="953.6" stroke="#2e2e2e" stroke-width="1.2"/>
<line x1="446.83" y1="947.5" x2="446.83" y2="953.6" stroke="#2e2e2e" stroke-width="1.2"/>
<line x1="453.82" y1="947.5" x2="453.82" y2="953.6" stroke="#2e2e2e" stroke-width="1.2"/>
<line x1="460.81" y1="947.5" x2="460.81" y2="953.6" stroke="#2e2e2e" stroke-width="1.2"/>
<line x1="467.8" y1="947.5" x2="467.8" y2="957.3" stroke="#2e2e2e" stroke-width="1.2"/>
<line x1="474.79" y1="947.5" x2="474.79" y2="953.6" stroke="#2e2e2e" stroke-width="1.2"/>
<line x1="481.78" y1="947.5" x2="481.78" y2="953.6" stroke="#2e2e2e" stroke-width="1.2"/>
<line x1="488.77" y1="947.5" x2="488.77" y2="953.6" stroke="#2e2e2e" stroke-width="1.2"/>
<line x1="495.76" y1="947.5" x2="495.76" y2="953.6" stroke="#2e2e2e" stroke-width="1.2"/>
<line x1="502.75" y1="947.5" x2="502.75" y2="957.3" stroke="#2e2e2e" stroke-width="1.2"/>
<line x1="509.74" y1="947.5" x2="509.74" y2="953.6" stroke="#2e2e2e" stroke-width="1.2"/>
<line x1="516.73" y1="947.5" x2="516.73" y2="953.6" stroke="#2e2e2e" stroke-width="1.2"/>
<line x1="523.72" y1="947.5" x2="523.72" y2="953.6" stroke="#2e2e2e" stroke-width="1.2"/>
<line x1="530.71" y1="947.5" x2="530.71" y2="953.6" stroke="#2e2e2e" stroke-width="1.2"/>
<line x1="537.7" y1="947.5" x2="537.7" y2="957.3" stroke="#2e2e2e" stroke-width="1.2"/>
<line x1="544.69" y1="947.5" x2="544.69" y2="953.6" stroke="#2e2e2e" stroke-width="1.2"/>
<line x1="551.68" y1="947.5" x2="551.68" y2="953.6" stroke="#2e2e2e" stroke-width="1.2"/>
<line x1="558.67" y1="947.5" x2="558.67" y2="953.6" stroke="#2e2e2e" stroke-width="1.2"/>
<line x1="565.66" y1="947.5" x2="565.66" y2="953.6" stroke="#2e2e2e" stroke-width="1.2"/>
<line x1="572.65" y1="947.5" x2="572.65" y2="957.3" stroke="#2e2e2e" stroke-width="1.2"/>
<line x1="579.64" y1="947.5" x2="579.64" y2="953.6" stroke="#2e2e2e" stroke-width="1.2"/>
<line x1="586.63" y1="947.5" x2="586.63" y2="953.6" stroke="#2e2e2e" stroke-width="1.2"/>
<line x1="593.62" y1="947.5" x2="593.62" y2="953.6" stroke="#2e2e2e" stroke-width="1.2"/>
<line x1="600.61" y1="947.5" x2="600.61" y2="953.6" stroke="#2e2e2e" stroke-width="1.2"/>
<line x1="607.6" y1="947.5" x2="607.6" y2="957.3" stroke="#2e2e2e" stroke-width="1.2"/>
<line x1="614.59" y1="947.5" x2="614.59" y2="953.6" stroke="#2e2e2e" stroke-width="1.2"/>
<line x1="621.58" y1="947.5" x2="621.58" y2="953.6" stroke="#2e2e2e" stroke-width="1.2"/>
<line x1="628.57" y1="947.5" x2="628.57" y2="953.6" stroke="#2e2e2e" stroke-width="1.2"/>
<line x1="635.56" y1="947.5" x2="635.56" y2="953.6" stroke="#2e2e2e" stroke-width="1.2"/>
<line x1="642.55" y1="947.5" x2="642.55" y2="957.3" stroke="#2e2e2e" stroke-width="1.2"/>
<line x1="649.54" y1="947.5" x2="649.54" y2="953.6" stroke="#2e2e2e" stroke-width="1.2"/>
<line x1="656.53" y1="947.5" x2="656.53" y2="953.6" stroke="#2e2e2e" stroke-width="1.2"/>
<line x1="663.52" y1="947.5" x2="663.52" y2="953.6" stroke="#2e2e2e" stroke-width="1.2"/>
<line x1="670.51" y1="947.5" x2="670.51" y2="953.6" stroke="#2e2e2e" stroke-width="1.2"/>
<line x1="677.5" y1="947.5" x2="677.5" y2="957.3" stroke="#2e2e2e" stroke-width="1.2"/>
<line x1="684.49" y1="947.5" x2="684.49" y2="953.6" stroke="#2e2e2e" stroke-width="1.2"/>
<line x1="691.48" y1="947.5" x2="691.48" y2="953.6" stroke="#2e2e2e" stroke-width="1.2"/>
<line x1="698.47" y1="947.5" x2="698.47" y2="953.6" stroke="#2e2e2e" stroke-width="1.2"/>
<line x1="705.46" y1="947.5" x2="705.46" y2="953.6" stroke="#2e2e2e" stroke-width="1.2"/>
<line x1="712.45" y1="947.5" x2="712.45" y2="957.3" stroke="#2e2e2e" stroke-width="1.2"/>
<line x1="719.44" y1="947.5" x2="719.44" y2="953.6" stroke="#2e2e2e" stroke-width="1.2"/>
<line x1="726.43" y1="947.5" x2="726.43" y2="953.6" stroke="#2e2e2e" stroke-width="1.2"/>
<line x1="733.42" y1="947.5" x2="733.42" y2="953.6" stroke="#2e2e2e" stroke-width="1.2"/>
<line x1="740.41" y1="947.5" x2="740.41" y2="953.6" stroke="#2e2e2e" stroke-width="1.2"/>
<line x1="747.4" y1="947.5" x2="747.4" y2="957.3" stroke="#2e2e2e" stroke-width="1.2"/>
<line x1="754.39" y1="947.5" x2="754.39" y2="953.6" stroke="#2e2e2e" stroke-width="1.2"/>
<line x1="761.38" y1="947.5" x2="761.38" y2="953.6" stroke="#2e2e2e" stroke-width="1.2"/>
<line x1="768.37" y1="947.5" x2="768.37" y2="953.6" stroke="#2e2e2e" stroke-width="1.2"/>
<line x1="775.36" y1="947.5" x2="775.36" y2="953.6" stroke="#2e2e2e" stroke-width="1.2"/>
<line x1="782.35" y1="947.5" x2="782.35" y2="957.3" stroke="#2e2e2e" stroke-width="1.2"/>
<line x1="789.34" y1="947.5" x2="789.34" y2="953.6" stroke="#2e2e2e" stroke-width="1.2"/>
<line x1="796.33" y1="947.5" x2="796.33" y2="953.6" stroke="#2e2e2e" stroke-width="1.2"/>
<line x1="803.32" y1="947.5" x2="803.32" y2="953.6" stroke="#2e2e2e" stroke-width="1.2"/>
<line x1="810.31" y1="947.5" x2="810.31" y2="953.6" stroke="#2e2e2e" stroke-width="1.2"/>
<line x1="817.3" y1="947.5" x2="817.3" y2="957.3" stroke="#2e2e2e" stroke-width="1.2"/>
<line x1="824.29" y1="947.5" x2="824.29" y2="953.6" stroke="#2e2e2e" stroke-width="1.2"/>
<line x1="831.28" y1="947.5" x2="831.28" y2="953.6" stroke="#2e2e2e" stroke-width="1.2"/>
<line x1="838.27" y1="947.5" x2="838.27" y2="953.6" stroke="#2e2e2e" stroke-width="1.2"/>
<line x1="845.26" y1="947.5" x2="845.26" y2="953.6" stroke="#2e2e2e" stroke-width="1.2"/>
<line x1="852.25" y1="947.5" x2="852.25" y2="957.3" stroke="#2e2e2e" stroke-width="1.2"/>
<line x1="859.24" y1="947.5" x2="859.24" y2="953.6" stroke="#2e2e2e" stroke-width="1.2"/>
<line x1="866.23" y1="947.5" x2="866.23" y2="953.6" stroke="#2e2e2e" stroke-width="1.2"/>
<line x1="873.22" y1="947.5" x2="873.22" y2="953.6" stroke="#2e2e2e" stroke-width="1.2"/>
<line x1="880.21" y1="947.5" x2="880.21" y2="953.6" stroke="#2e2e2e" stroke-width="1.2"/>
<line x1="887.2" y1="947.5" x2="887.2" y2="957.3" stroke="#2e2e2e" stroke-width="1.2"/>
<line x1="894.19" y1="947.5" x2="894.19" y2="953.6" stroke="#2e2e2e" stroke-width="1.2"/>
<line x1="901.18" y1="947.5" x2="901.18" y2="953.6" stroke="#2e2e2e" stroke-width="1.2"/>
<line x1="908.17" y1="947.5" x2="908.17" y2="953.6" stroke="#2e2e2e" stroke-width="1.2"/>
<text transform="translate(49.6,970.8) scale(1,1.08)" font-size="14.8" fill="#505050" text-anchor="middle">200</text>
<text transform="translate(119.5,970.8) scale(1,1.08)" font-size="14.8" fill="#505050" text-anchor="middle">400</text>
<text transform="translate(189.4,970.8) scale(1,1.08)" font-size="14.8" fill="#505050" text-anchor="middle">600</text>
<text transform="translate(259.3,970.8) scale(1,1.08)" font-size="14.8" fill="#505050" text-anchor="middle">800</text>
<text transform="translate(329.2,970.8) scale(1,1.08)" font-size="14.8" fill="#505050" text-anchor="middle">1000</text>
<text transform="translate(399.1,970.8) scale(1,1.08)" font-size="14.8" fill="#505050" text-anchor="middle">1200</text>
<text transform="translate(469,970.8) scale(1,1.08)" font-size="14.8" fill="#505050" text-anchor="middle">1400</text>
<text transform="translate(538.9,970.8) scale(1,1.08)" font-size="14.8" fill="#505050" text-anchor="middle">1600</text>
<text transform="translate(608.8,970.8) scale(1,1.08)" font-size="14.8" fill="#505050" text-anchor="middle">1800</text>
<text transform="translate(678.7,970.8) scale(1,1.08)" font-size="14.8" fill="#505050" text-anchor="middle">2000</text>
<text transform="translate(748.6,970.8) scale(1,1.08)" font-size="14.8" fill="#505050" text-anchor="middle">2200</text>
<text transform="translate(818.5,970.8) scale(1,1.08)" font-size="14.8" fill="#505050" text-anchor="middle">2400</text>
<text transform="translate(888.4,970.8) scale(1,1.08)" font-size="14.8" fill="#505050" text-anchor="middle">2600</text>
<text transform="translate(932.6,970.8) scale(1,1.08)" font-size="14.8" fill="#505050" text-anchor="start">kW</text>
<text x="297.3" y="562" font-size="16.1" fill="#ed1c24" text-anchor="start" letter-spacing="0.38">RS 250/M MZ</text>
<text transform="translate(224,640.3) scale(0.94,1)" font-size="17.2" fill="#ed1c24" text-anchor="start" letter-spacing="0.5" stroke="#ed1c24" stroke-width="0.25">RS 150/M</text>
<text x="429.8" y="640.3" font-size="16.1" fill="#1d1d1b" text-anchor="start" letter-spacing="0.38">RS 190/M</text>
<rect x="1010" y="17.5" width="36.6" height="24.9" fill="none" stroke="#231f20" stroke-width="2.8"/>
<path d="M1011.3 136.3V130.5H1015.3 M1043.6 130.5H1047.6V136.3 M1011.3 149.8V155.6H1015.3 M1043.6 155.6H1047.6V149.8 M1025.3 130.5H1033.9 M1025.3 155.6H1033.9" fill="none" stroke="#231f20" stroke-width="2.8" stroke-linecap="round" stroke-linejoin="miter"/>
<text transform="translate(1007.82,60.8) scale(1,1)" font-size="16.4" fill="#1e1e2a" letter-spacing="1.18" stroke="#1e1e2a" stroke-width="0.3">Useful working field</text>
<text transform="translate(1008.84,80.4) scale(1,1)" font-size="16.4" fill="#1e1e2a" letter-spacing="1.1" stroke="#1e1e2a" stroke-width="0.3">for choosing the</text>
<text transform="translate(1008.08,99.8) scale(1,1)" font-size="16.4" fill="#1e1e2a" letter-spacing="1.62" stroke="#1e1e2a" stroke-width="0.3">burner</text>
<text transform="translate(1007.82,178.5) scale(1,1)" font-size="16.4" fill="#1e1e2a" letter-spacing="1.19" stroke="#1e1e2a" stroke-width="0.3">Modulation range</text>
<text transform="translate(1008.84,217.6) scale(1,1)" font-size="16.4" fill="#1e1e2a" letter-spacing="0.89" stroke="#1e1e2a" stroke-width="0.3">Test conditions</text>
<text transform="translate(1008.33,237.1) scale(1,1)" font-size="16.4" fill="#1e1e2a" letter-spacing="1.34" stroke="#1e1e2a" stroke-width="0.3">conforming to</text>
<text transform="translate(1007.88,256.6) scale(1,1)" font-size="15.6" fill="#1e1e2a" letter-spacing="-0.03" stroke="#1e1e2a" stroke-width="0.3">EN676</text>
<text transform="translate(1008.84,275.9) scale(1,1)" font-size="16.4" fill="#1e1e2a" letter-spacing="0.68" stroke="#1e1e2a" stroke-width="0.3">Temperature: 20°C</text>
<text transform="translate(1007.82,295.6) scale(1,1)" font-size="16.4" fill="#1e1e2a" letter-spacing="0.11" stroke="#1e1e2a" stroke-width="0.3">Pressure: 1013,5</text>
<text transform="translate(1007.96,315.1) scale(1.12,1)" font-size="16.4" fill="#1e1e2a" letter-spacing="0.38" stroke="#1e1e2a" stroke-width="0.3">mbar</text>
<text transform="translate(1009.1,334.4) scale(1,1)" font-size="16.4" fill="#1e1e2a" letter-spacing="1.14" stroke="#1e1e2a" stroke-width="0.3">Altitude: 0 m a.s.l.</text>
</svg></body></html>
